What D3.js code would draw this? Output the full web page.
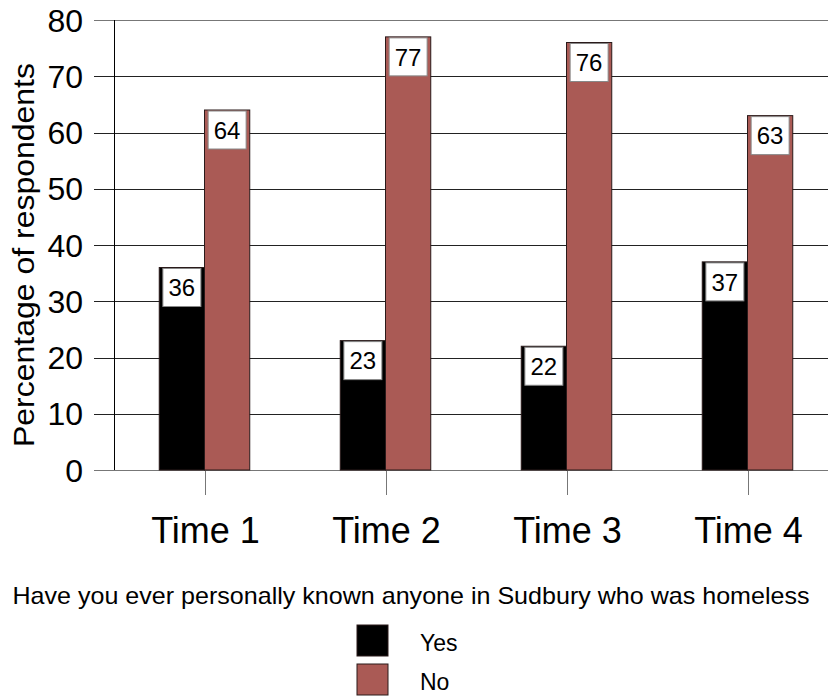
<!DOCTYPE html>
<html>
<head>
<meta charset="utf-8">
<script src="https://cdn.jsdelivr.net/npm/d3@7"></script>
<style>
  body { margin: 0; background: #fff; }
  svg { display: block; font-family: "Liberation Sans", Arial, sans-serif; }
</style>
</head>
<body>
<div id="chart"></div>
<script>
// data
const categories = ["Time 1", "Time 2", "Time 3", "Time 4"];
const seriesNames = ["Yes", "No"];
const yesValues = [36, 23, 22, 37];
const noValues = [64, 77, 76, 63];
const yTicks = [0, 10, 20, 30, 40, 50, 60, 70, 80];
const seriesColors = ["#000000", "#AA5A55"];

const width = 828, height = 696;

const svg = d3.select("#chart").append("svg")
  .attr("width", width).attr("height", height);

const x = d3.scaleBand().domain(categories).range([114, 838]);
const x1 = d3.scaleBand().domain(seriesNames).range([0, x.bandwidth() / 2]);
const y = d3.scaleLinear().domain([0, 80]).range([470, 20]);

// gridlines
svg.append("g")
  .selectAll("line")
  .data(yTicks)
  .join("line")
  .attr("x1", 94).attr("x2", width)
  .attr("y1", d => Math.round(y(d)) + 0.5).attr("y2", d => Math.round(y(d)) + 0.5)
  .attr("stroke", d => (d === 0 || d === 80) ? "#777" : "#222")
  .attr("stroke-width", 1);

// y tick labels
svg.append("g")
  .selectAll("text")
  .data(yTicks)
  .join("text")
  .attr("x", 83)
  .attr("y", d => y(d))
  .attr("dy", "0.36em")
  .attr("text-anchor", "end")
  .style("font-size", "32px")
  .text(d => d);

// y axis line
svg.append("line")
  .attr("x1", 114.5).attr("x2", 114.5)
  .attr("y1", y(80)).attr("y2", y(0))
  .attr("stroke", "#000");

// x ticks
svg.append("g")
  .selectAll("line")
  .data(categories)
  .join("line")
  .attr("x1", d => Math.round(x(d) + x.bandwidth() / 2) + 0.5)
  .attr("x2", d => Math.round(x(d) + x.bandwidth() / 2) + 0.5)
  .attr("y1", y(0)).attr("y2", y(0) + 25)
  .attr("stroke", "#777");

// bars
const rows = categories.map((c, i) => ({ cat: c, values: [yesValues[i], noValues[i]] }));
const groups = svg.append("g")
  .selectAll("g")
  .data(rows)
  .join("g")
  .attr("transform", d => `translate(${x(d.cat) + x.bandwidth() / 4},0)`);

const cells = groups.selectAll("g")
  .data(d => d.values.map((v, j) => ({ s: seriesNames[j], v, j })))
  .join("g");

cells.append("rect")
  .attr("x", d => x1(d.s))
  .attr("y", d => y(d.v))
  .attr("width", x1.bandwidth())
  .attr("height", d => y(0) - y(d.v))
  .attr("fill", d => seriesColors[d.j])
  .attr("stroke", "#2a1a1a")
  .attr("stroke-width", 1);

const boxW = 38, boxH = 38;
cells.append("rect")
  .attr("x", d => x1(d.s) + x1.bandwidth() / 2 - boxW / 2)
  .attr("y", d => y(d.v) + 1)
  .attr("width", boxW)
  .attr("height", boxH)
  .attr("fill", "#fff")
  .attr("stroke", "#888")
  .attr("stroke-width", 1);

cells.append("text")
  .attr("x", d => x1(d.s) + x1.bandwidth() / 2)
  .attr("y", d => y(d.v) + 1 + boxH / 2)
  .attr("dy", "0.36em")
  .attr("text-anchor", "middle")
  .style("font-size", "24px")
  .text(d => d.v);

// x tick labels
svg.append("g")
  .selectAll("text")
  .data(categories)
  .join("text")
  .attr("x", d => x(d) + x.bandwidth() / 2 + 1)
  .attr("y", 543)
  .attr("text-anchor", "middle")
  .style("font-size", "36px")
  .text(d => d);

// y axis title
svg.append("text")
  .attr("transform", `translate(34,255) rotate(-90)`)
  .attr("text-anchor", "middle")
  .attr("textLength", 384)
  .attr("lengthAdjust", "spacingAndGlyphs")
  .style("font-size", "29px")
  .text("Percentage of respondents");

// x axis title
svg.append("text")
  .attr("x", 411)
  .attr("y", 604)
  .attr("text-anchor", "middle")
  .attr("textLength", 797)
  .attr("lengthAdjust", "spacingAndGlyphs")
  .style("font-size", "24px")
  .text("Have you ever personally known anyone in Sudbury who was homeless");

// legend
const legend = svg.append("g")
  .selectAll("g")
  .data(seriesNames)
  .join("g")
  .attr("transform", (d, i) => `translate(357,${625 + i * 39})`);

legend.append("rect")
  .attr("width", 31).attr("height", 31)
  .attr("fill", (d, i) => seriesColors[i])
  .attr("stroke", "#2a1a1a");

legend.append("text")
  .attr("x", 63)
  .attr("y", 26)
  .style("font-size", "23px")
  .text(d => d);
</script>
</body>
</html>
